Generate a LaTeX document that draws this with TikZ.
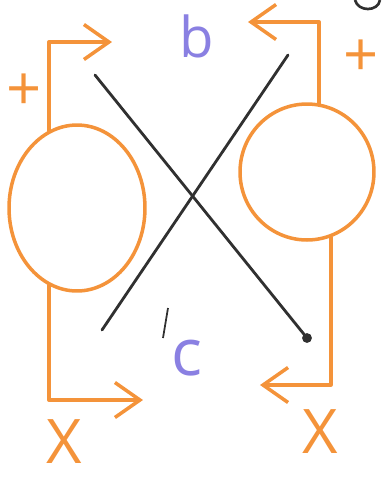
\documentclass[tikz,border=0pt]{standalone}
\usepackage{fontspec}
\setmainfont{Open Sans}
\usetikzlibrary{positioning,arrows.meta,shapes.geometric}
\definecolor{pen}{HTML}{F4933A}
\definecolor{lilac}{HTML}{8A80E2}
\definecolor{ink}{HTML}{303030}

\begin{document}
\begin{tikzpicture}[
    x=0.02cm, y=-0.02cm,
    blob/.style={ellipse, draw=pen, line width=2pt, inner sep=0pt},
    flow/.style={pen, line width=2pt, line cap=round, line join=round,
                 -{Straight Barb[length=5mm, width=7mm, line width=2pt]}},
    stroke/.style={ink, line width=1.6pt, line cap=round},
    letter/.style={text=lilac, font=\fontsize{32}{32}\selectfont, inner sep=0pt},
    sign/.style={text=pen, font=\fontsize{35}{35}\selectfont, inner sep=0pt},
]
\useasboundingbox (0,0) rectangle (384,478);

% Circles
\node[blob, minimum width=2.72cm, minimum height=3.32cm] (lc) at (77,208) {};
\node[blob, minimum width=2.68cm, minimum height=2.72cm] (rc) at (307,172) {};

% Letters
\node[letter] (b) at (197,36) {b};
\node[letter, font=\fontsize{37}{37}\selectfont] (c) at (187,358) {c};

% Signs
\node[sign] (plusL) at (24,92) {+};
\node[sign] (plusR) at (361,58) {+};
\node[sign] (xL) at (64,442) {X};
\node[sign] (xR) at (320,432) {X};

% Crossing lines
\coordinate (nw) at (95,75);
\coordinate (se) at (307,338);
\coordinate (ne) at (288,55);
\coordinate (sw) at (102,330);
\draw[stroke] (nw) -- (se);
\draw[stroke] (sw) -- (ne);
\fill[ink] (se) circle (2.8pt);
\coordinate (tk1) at (168,308);
\coordinate (tk2) at (163,338);
\draw[ink, line width=1pt] (tk1) -- (tk2);

% Arrows
\coordinate (lt) at (112,42);
\coordinate (lb) at (143,400);
\coordinate (rt) at (248,22);
\coordinate (rb) at (260,385);
\draw[flow] (lc.110) |- (lt);
\draw[flow] (lc.250) |- (lb);
\draw[flow] (rc.80) |- (rt);
\draw[flow] (rc.290) |- (rb);

% Corner mark
\draw[ink, line width=1.5pt] (355,0) .. controls (358,12) and (378,12) .. (380,0);
\end{tikzpicture}
\end{document}
